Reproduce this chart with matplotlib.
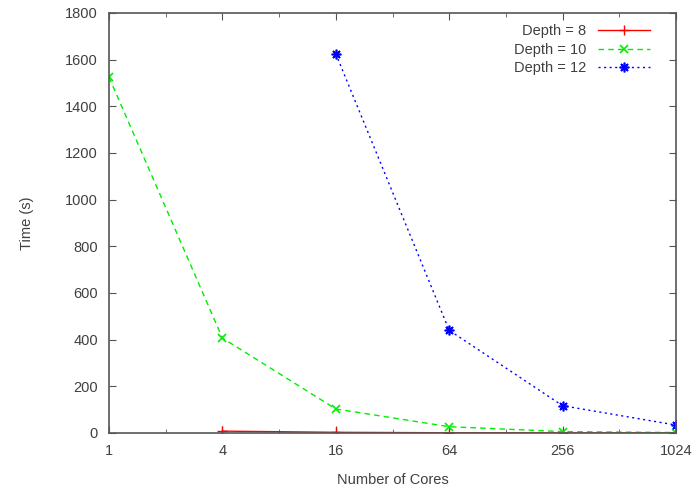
import numpy as np
import matplotlib
matplotlib.use('Agg')
import matplotlib.pyplot as plt
from matplotlib.ticker import FixedLocator, NullFormatter

#%% data
cores = [1, 4, 16, 64, 256, 1024]
depth8_cores = [4, 16, 64, 256, 1024]
depth8_time = [8, 3, 1, 0.5, 0.3]
depth10_time = [1525, 407, 103, 27, 6, 2]
depth12_cores = [16, 64, 256, 1024]
depth12_time = [1625, 440, 117, 34]
yticks = [0, 200, 400, 600, 800, 1000, 1200, 1400, 1600, 1800]

plt.rcParams['font.family'] = ['Liberation Sans', 'DejaVu Sans']
plt.rcParams['font.size'] = 10.5
txt = '#404040'

fig = plt.figure(figsize=(6.98, 4.88), dpi=100)
ax = fig.add_axes([109/698, 1 - 433/488, (676-109)/698, (433-13)/488])

ax.plot(depth8_cores, depth8_time, color='#ff0000', lw=1, ls='-',
        marker='+', ms=7, mew=1, label='Depth = 8')
ax.plot(cores, depth10_time, color='#00ee00', lw=1, ls=(0, (4, 3)),
        marker='x', ms=6, mew=1.2, label='Depth = 10')
ax.plot(depth12_cores, depth12_time, color='#0000ff', lw=1, ls=(0, (1.5, 2.5)),
        marker=(8, 2, 0), ms=7, mew=1.2, label='Depth = 12')

ax.set_xscale('log', base=2)
ax.set_xlim(1, 1024)
ax.set_ylim(0, 1800)
ax.set_xticks(cores)
ax.set_xticklabels([str(c) for c in cores])
ax.xaxis.set_minor_locator(FixedLocator([2, 8, 32, 128, 512]))
ax.xaxis.set_minor_formatter(NullFormatter())
ax.set_yticks(yticks)

ax.tick_params(which='both', direction='in', top=True, right=True,
               colors='#555555', labelcolor=txt, pad=8)
ax.tick_params(which='major', length=5)
ax.tick_params(which='minor', length=3)
for s in ax.spines.values():
    s.set_color('#555555')
    s.set_linewidth(1.2)

ax.set_xlabel('Number of Cores', color=txt, labelpad=11)
ax.set_ylabel('Time (s)', color=txt, labelpad=22)

leg = ax.legend(loc='upper right', frameon=False, markerfirst=False,
                handlelength=3.6, labelspacing=0.33, borderaxespad=0,
                handletextpad=0.8,
                bbox_to_anchor=(656/698, 1 - 18/488),
                bbox_transform=fig.transFigure)
for t in leg.get_texts():
    t.set_color(txt)

plt.savefig('out.png', dpi=100)
